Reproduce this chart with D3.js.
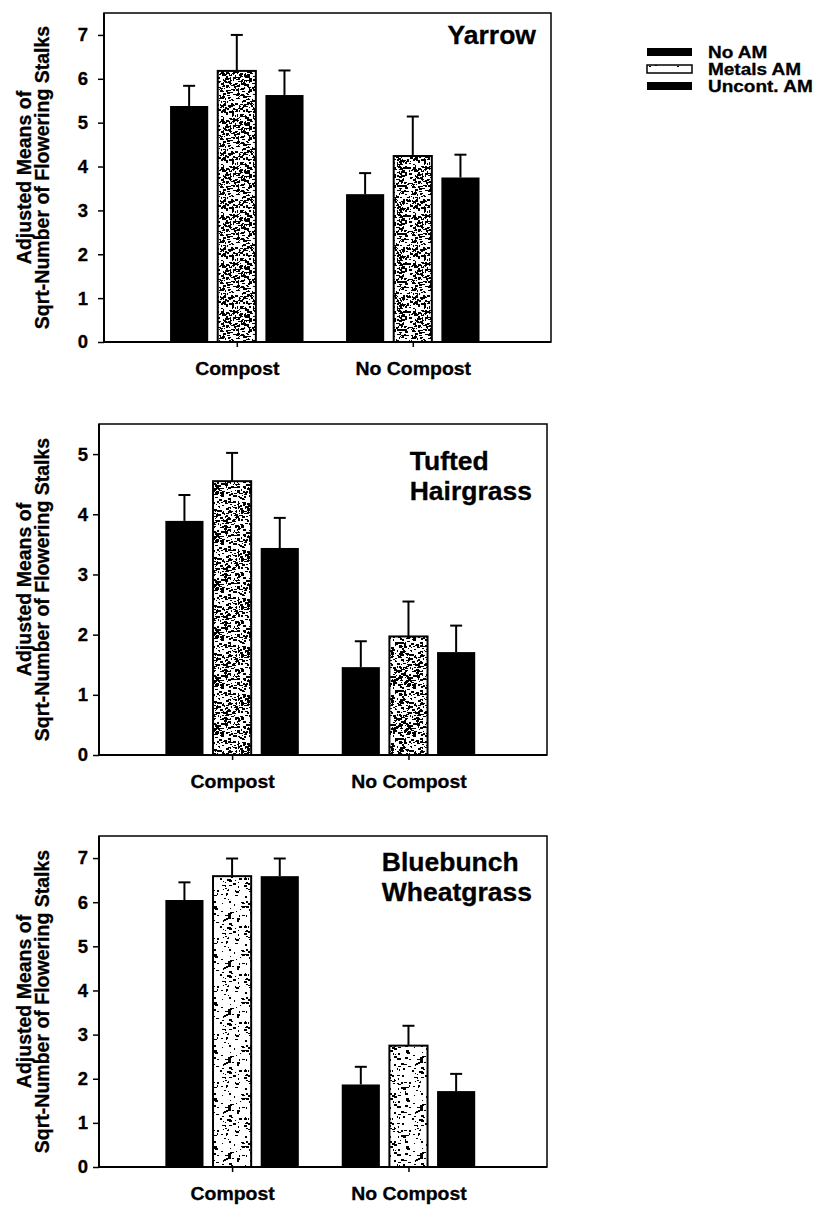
<!DOCTYPE html>
<html lang="en">
<head>
    <meta charset="UTF-8">
    <script src="https://d3js.org/d3.v7.min.js"></script>
    <style>
        body {margin: 0; background-color: #ffffff}
        svg text {font-family: "Liberation Sans", Arial, sans-serif; font-weight: bold; fill: #000;
            stroke: #000; stroke-width: 0.3px}
    </style>
</head>
<body>
<svg class="chart"></svg>
<script type="text/javascript">
    // categories and series
    var groups = ['Compost', 'No Compost'];
    var series = ['No AM', 'Metals AM', 'Uncont. AM'];
    var titles = [['Yarrow'], ['Tufted', 'Hairgrass'], ['Bluebunch', 'Wheatgrass']];

    // adjusted means, [group][series]
    var yarrow_means = [[5.38, 6.18, 5.63], [3.37, 4.24, 3.75]];
    var yarrow_se = [[0.46, 0.82, 0.56], [0.48, 0.90, 0.52]];
    var hairgrass_means = [[3.89, 4.55, 3.44], [1.46, 1.97, 1.71]];
    var hairgrass_se = [[0.43, 0.47, 0.50], [0.43, 0.58, 0.44]];
    var wheatgrass_means = [[6.05, 6.59, 6.59], [1.87, 2.75, 1.72]];
    var wheatgrass_se = [[0.40, 0.40, 0.40], [0.40, 0.45, 0.39]];

    var y_max = [7.5, 5.5, 7.5];
    var y_ticks = [[0, 1, 2, 3, 4, 5, 6, 7], [0, 1, 2, 3, 4, 5], [0, 1, 2, 3, 4, 5, 6, 7]];

    var all_means = [yarrow_means, hairgrass_means, wheatgrass_means];
    var all_se = [yarrow_se, hairgrass_se, wheatgrass_se];

    // page layout of the three frames
    var boxes = [
        {left: 104, right: 551, top: 13, bottom: 342, title_dy: 31},
        {left: 99, right: 547, top: 424, bottom: 755, title_dy: 46},
        {left: 99, right: 547, top: 836, bottom: 1167, title_dy: 35}
    ];

    var svg = d3.select('.chart').attr('width', 816).attr('height', 1205);
    var defs = svg.append('defs');

    // scanned look: text is a little wider than the font
    function stretch(sel, k) {
        sel.each(function () {
            var w = this.getComputedTextLength();
            d3.select(this).attr('textLength', w * k).attr('lengthAdjust', 'spacingAndGlyphs');
        });
    }

    // stipple fill of the Metals AM bars
    function speckle(id, count, seed) {
        var rnd = d3.randomLcg(seed);
        var size = 48;
        var pat = defs.append('pattern').attr('id', id)
            .attr('patternUnits', 'userSpaceOnUse')
            .attr('width', size).attr('height', size);
        pat.append('rect').attr('width', size).attr('height', size).attr('fill', '#fff');
        for (var k = 0; k < count; k++) {
            pat.append('rect')
                .attr('x', Math.floor(rnd() * size))
                .attr('y', Math.floor(rnd() * size))
                .attr('width', 1 + Math.floor(rnd() * 3))
                .attr('height', 1 + Math.floor(rnd() * 2))
                .attr('fill', '#000');
        }
    }
    speckle('dots0', 430, 0.11);
    speckle('dots1', 380, 0.37);
    speckle('dots2', 130, 0.73);
    speckle('dots_legend', 30, 0.5);

    boxes.forEach(function (box, i) {
        var g = svg.append('g');

        var y = d3.scaleLinear().domain([0, y_max[i]]).range([box.bottom, box.top]);
        var x0 = d3.scalePoint().domain(groups).range([box.left, box.right]).padding(0.77).align(0.49);
        var x1 = d3.scaleBand().domain(series).range([-71.5, 71.5]).paddingInner(0.2).paddingOuter(0.1);

        // frame
        g.append('rect')
            .attr('x', box.left).attr('y', box.top)
            .attr('width', box.right - box.left).attr('height', box.bottom - box.top)
            .attr('fill', 'none').attr('stroke', '#000').attr('stroke-width', 1.5);

        var rows = [];
        groups.forEach(function (grp, gi) {
            series.forEach(function (s, si) {
                rows.push({group: grp, series: s, mean: all_means[i][gi][si], se: all_se[i][gi][si]});
            });
        });

        // error bars first, bars cover the lower half
        var err = g.selectAll('.err').data(rows).enter().append('g');
        err.append('line')
            .attr('x1', function (d) { return x0(d.group) + x1(d.series) + x1.bandwidth() / 2; })
            .attr('x2', function (d) { return x0(d.group) + x1(d.series) + x1.bandwidth() / 2; })
            .attr('y1', function (d) { return y(d.mean); })
            .attr('y2', function (d) { return y(d.mean + d.se); })
            .attr('stroke', '#000').attr('stroke-width', 2);
        err.append('line')
            .attr('x1', function (d) { return x0(d.group) + x1(d.series) + x1.bandwidth() / 2 - 6; })
            .attr('x2', function (d) { return x0(d.group) + x1(d.series) + x1.bandwidth() / 2 + 6; })
            .attr('y1', function (d) { return y(d.mean + d.se); })
            .attr('y2', function (d) { return y(d.mean + d.se); })
            .attr('stroke', '#000').attr('stroke-width', 2);

        g.selectAll('.bar').data(rows).enter().append('rect')
            .attr('x', function (d) { return x0(d.group) + x1(d.series); })
            .attr('y', function (d) { return y(d.mean); })
            .attr('width', x1.bandwidth())
            .attr('height', function (d) { return y(0) - y(d.mean); })
            .attr('fill', function (d) { return d.series === 'Metals AM' ? 'url(#dots' + i + ')' : '#000'; })
            .attr('stroke', '#000')
            .attr('stroke-width', function (d) { return d.series === 'Metals AM' ? 2 : 0; });

        // y axis
        var ya = g.append('g').attr('transform', 'translate(' + box.left + ',0)')
            .call(d3.axisLeft(y).tickValues(y_ticks[i]).tickFormat(d3.format('d')).tickSize(6).tickSizeOuter(0));
        ya.select('.domain').remove();
        ya.selectAll('line').attr('stroke', '#000').attr('stroke-width', 1.5);
        ya.selectAll('text').attr('x', 88 - box.left).attr('font-size', '18.5px')
            .attr('font-family', null);

        // x axis
        var xa = g.append('g').attr('transform', 'translate(0,' + box.bottom + ')')
            .call(d3.axisBottom(x0).tickSize(5).tickSizeOuter(0));
        xa.select('.domain').remove();
        xa.selectAll('line').attr('stroke', '#000').attr('stroke-width', 1.5);
        xa.selectAll('text').attr('y', 33).attr('dy', 0).attr('font-size', '18px')
            .attr('font-family', null)
            .call(stretch, 1.08);

        // axis lines
        g.append('line').attr('x1', box.left).attr('x2', box.left)
            .attr('y1', box.top).attr('y2', box.bottom)
            .attr('stroke', '#000').attr('stroke-width', 2);
        g.append('line').attr('x1', box.left).attr('x2', box.right)
            .attr('y1', box.bottom).attr('y2', box.bottom)
            .attr('stroke', '#000').attr('stroke-width', 2);

        // y label
        var mid = (box.top + box.bottom) / 2;
        [['Adjusted Means of', 31], ['Sqrt-Number of Flowering Stalks', 49]].forEach(function (l) {
            g.append('text')
                .attr('transform', 'translate(' + l[1] + ',' + mid + ') rotate(-90)')
                .attr('text-anchor', 'middle').attr('font-size', '19.5px')
                .text(l[0]);
        });

        // species title, lines left aligned
        var t = g.selectAll('.title').data(titles[i]).enter().append('text')
            .attr('font-size', '25px')
            .attr('y', function (d, k) { return box.top + box.title_dy + k * 30; })
            .text(function (d) { return d; })
            .call(stretch, 1.06);
        var widest = d3.max(t.nodes(), function (n) { return +n.getAttribute('textLength'); });
        t.attr('x', box.right - 15 - widest);
    });

    // legend
    var ly = d3.scalePoint().domain(series).range([52, 86]);
    var legend = svg.append('g').selectAll('g').data(series).enter().append('g');
    legend.append('rect')
        .attr('x', 647).attr('y', function (d) { return ly(d) - 4; })
        .attr('width', 45).attr('height', 8)
        .attr('fill', function (d) { return d === 'Metals AM' ? 'url(#dots_legend)' : '#000'; })
        .attr('stroke', '#000')
        .attr('stroke-width', function (d) { return d === 'Metals AM' ? 1.5 : 0; });
    legend.append('text')
        .attr('x', 708).attr('y', function (d) { return ly(d) + 6; })
        .attr('font-size', '16.5px')
        .text(function (d) { return d; })
        .call(stretch, 1.15);
</script>
</body>
</html>
